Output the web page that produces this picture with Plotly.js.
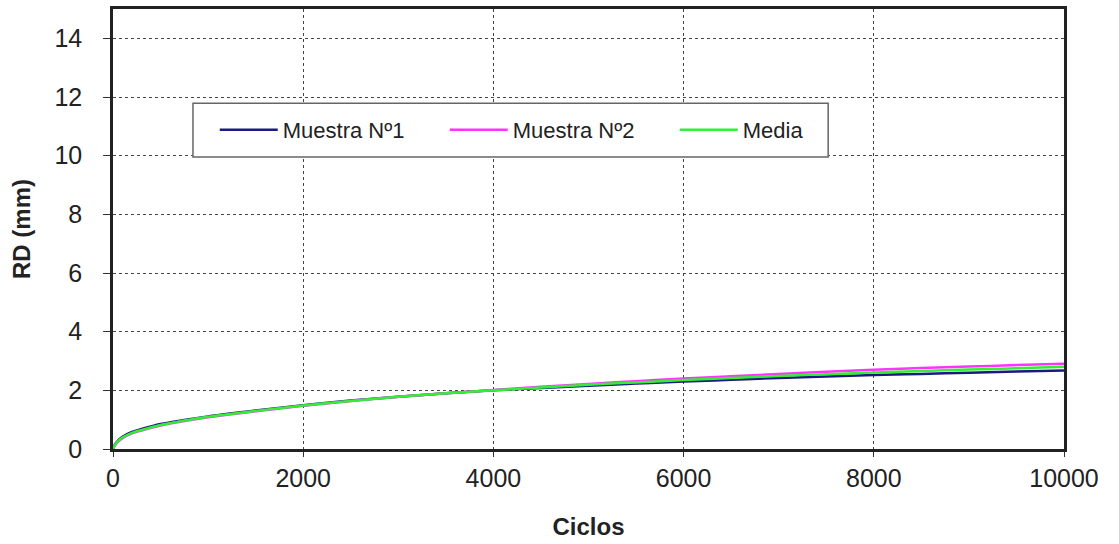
<!DOCTYPE html>
<html><head><meta charset="utf-8">
<script src="https://cdn.plot.ly/plotly-3.0.1.min.js"></script>
<style>html,body{margin:0;padding:0;background:#fff}#chart{width:1119px;height:544px}</style>
</head><body><div id="chart"></div>
<script>
const ciclos = [0, 25, 50, 100, 200, 300, 500, 750, 1000, 1500, 2000, 2500, 3000, 3500, 4000, 4500, 5000, 5500, 6000, 6500, 7000, 7500, 8000, 8500, 9000, 9500, 10000];
const muestra1 = [0, 0.18, 0.28, 0.42, 0.58, 0.68, 0.85, 0.99, 1.11, 1.31, 1.49, 1.65, 1.78, 1.9, 2.0, 2.08, 2.16, 2.23, 2.3, 2.36, 2.42, 2.47, 2.52, 2.56, 2.6, 2.64, 2.68];
const muestra2 = [0, 0.14, 0.24, 0.37, 0.53, 0.63, 0.8, 0.95, 1.08, 1.29, 1.47, 1.64, 1.78, 1.9, 2.01, 2.12, 2.22, 2.31, 2.4, 2.48, 2.56, 2.63, 2.7, 2.76, 2.81, 2.86, 2.91];
const media = [0, 0.16, 0.26, 0.39, 0.55, 0.65, 0.82, 0.97, 1.1, 1.3, 1.48, 1.64, 1.78, 1.9, 2.0, 2.1, 2.19, 2.27, 2.35, 2.42, 2.49, 2.55, 2.61, 2.66, 2.71, 2.75, 2.8];
const names = ['Muestra Nº1', 'Muestra Nº2', 'Media'];
const colors = ['#1a1a80', '#ff33ff', '#33ee33'];
const series = [muestra1, muestra2, media];
const xTicks = [0, 2000, 4000, 6000, 8000, 10000];
const xTickText = ['0', '2000', '4000', '6000', '8000', '10000'];
const yTicks = [0, 2, 4, 6, 8, 10, 12, 14];

const traces = series.map((s, i) => ({
  x: ciclos, y: s, name: names[i], type: 'scatter', mode: 'lines',
  line: {color: colors[i], width: 2.5, shape: 'spline'}
}));

const fam = 'Liberation Sans, Arial, sans-serif';
const layout = {
  width: 1119, height: 544,
  margin: {l: 113, r: 55, t: 9, b: 95},
  paper_bgcolor: '#fff', plot_bgcolor: '#fff',
  font: {family: fam, color: '#222'},
  showlegend: true,
  legend: {
    orientation: 'h', x: 0.107, y: 0.725, xanchor: 'left', yanchor: 'middle',
    bgcolor: 'rgba(0,0,0,0)', borderwidth: 0,
    font: {family: fam, size: 22, color: '#222'},
    itemwidth: 58, entrywidth: 157, entrywidthmode: 'pixels'
  },
  shapes: [{
    type: 'rect', xref: 'paper', yref: 'paper', layer: 'above',
    x0: 0.0841, x1: 0.752, y0: 0.6636, y1: 0.786,
    fillcolor: '#fff', line: {color: '#666', width: 1.5}
  }],
  xaxis: {
    range: [0, 10000], tickvals: xTicks, ticktext: xTickText,
    showgrid: true, gridcolor: '#444', griddash: 'dot', gridwidth: 1,
    showline: true, linecolor: '#222', linewidth: 2.5, mirror: true,
    ticks: 'outside', ticklen: 5, tickcolor: '#333', tickwidth: 1,
    tickfont: {family: fam, size: 25, color: '#222'},
    zeroline: false,
    title: {text: '<b>Ciclos</b>', font: {family: fam, size: 24, color: '#222'}, standoff: 28}
  },
  yaxis: {
    range: [0, 15], tickvals: yTicks,
    showgrid: true, gridcolor: '#444', griddash: 'dot', gridwidth: 1,
    showline: true, linecolor: '#222', linewidth: 2.5, mirror: true,
    ticks: 'outside', ticklen: 7, tickcolor: '#333', tickwidth: 1,
    ticklabelstandoff: 16,
    tickfont: {family: fam, size: 25, color: '#222'},
    zeroline: false,
    title: {text: '<b>RD (mm)</b>', font: {family: fam, size: 24, color: '#222'}, standoff: 18}
  }
};
Plotly.newPlot('chart', traces, layout, {displayModeBar: false});
</script></body></html>
